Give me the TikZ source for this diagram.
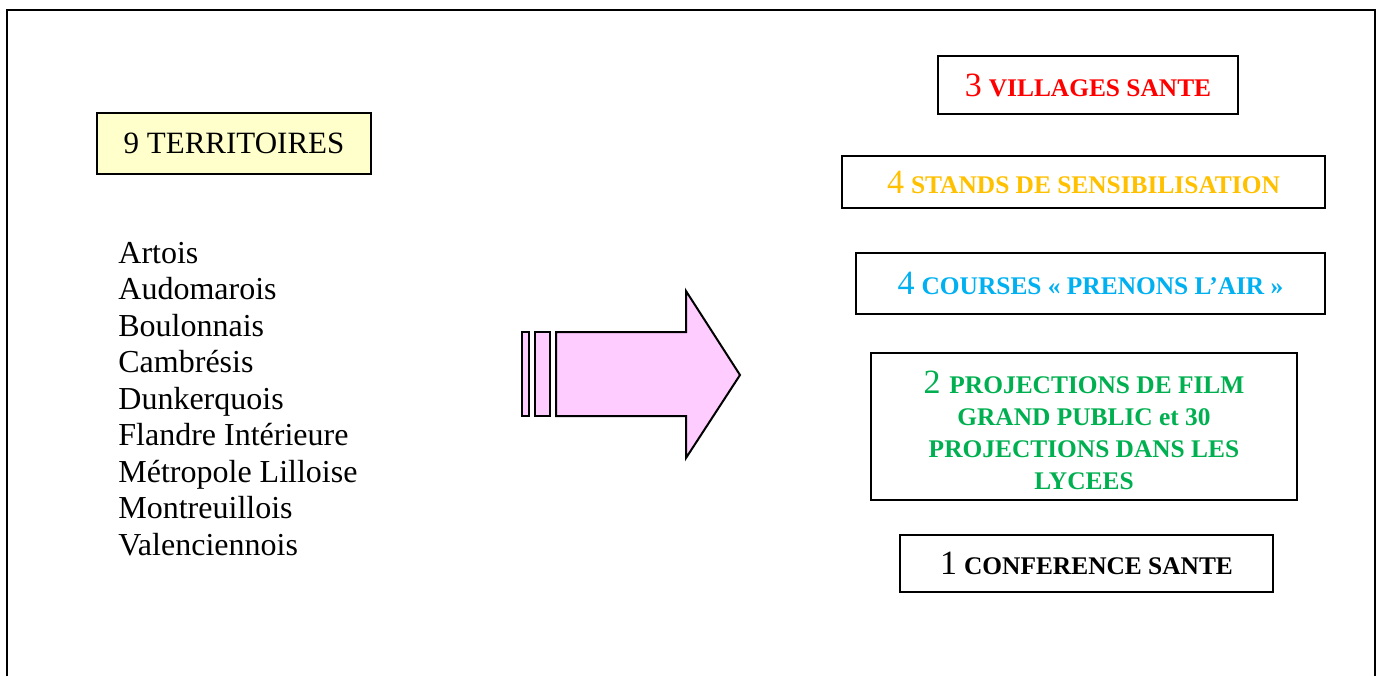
\documentclass[tikz,border=0pt]{standalone}
\usepackage{fontspec}
\setmainfont{Liberation Serif}
\definecolor{cred}{HTML}{FF0000}
\definecolor{corange}{HTML}{FFC000}
\definecolor{ccyan}{HTML}{00B0F0}
\definecolor{cgreen}{HTML}{00B050}
\definecolor{cyellow}{HTML}{FFFFCC}
\definecolor{cpink}{HTML}{FFCCFF}
\newcommand{\bignum}[1]{{\fontsize{17}{19}\selectfont\mdseries #1}\hspace{0.35em}}
\newcommand{\smcap}[1]{{\fontsize{12.7}{15.9}\selectfont\bfseries #1}}
\begin{document}
\begin{tikzpicture}[x=0.5pt,y=-0.5pt,
  box/.style={draw=black,line width=1pt,inner sep=0pt,align=center},
  shapeline/.style={draw=black,line width=1pt,fill=cpink,line join=miter}]
\useasboundingbox (0,0) rectangle (1383,676);
% outer frame (open at bottom)
\draw[line width=1pt] (6.5,676) -- (6.5,10) -- (1375,10) -- (1375,676);
% territoires
\node[box,fill=cyellow,minimum width=137pt,minimum height=30.5pt,
      font=\fontsize{15.5}{18}\selectfont] (terr) at (234,143.5) {9 TERRITOIRES};
\foreach \t [count=\i] in {Artois,Audomarois,Boulonnais,Cambrésis,Dunkerquois,Flandre Intérieure,Métropole Lilloise,Montreuillois,Valenciennois}
  \node[anchor=base west,inner sep=0pt,font=\fontsize{16}{18}\selectfont] (t\i) at (118,{263+36.5*(\i-1)}) {\t};
% arrow
\path[shapeline] (522,332) rectangle (529,416);
\path[shapeline] (535,332) rectangle (550,416);
\path[shapeline] (556,332) -- (686,332) -- (686,291) -- (740,375) -- (686,458) -- (686,416) -- (556,416) -- cycle;
% right boxes
\node[box,minimum width=150pt,minimum height=29pt,text=cred] (vil) at (1088,85)
  {\bignum{3}\smcap{VILLAGES SANTE}};
\node[box,minimum width=241.5pt,minimum height=26pt,text=corange] (sta) at (1083.5,182)
  {\bignum{4}\smcap{STANDS DE SENSIBILISATION}};
\node[box,minimum width=234.5pt,minimum height=30.5pt,text=ccyan] (cou) at (1090.5,283.5)
  {\bignum{4}\smcap{COURSES « PRENONS L’AIR »}};
\node[box,minimum width=213pt,minimum height=73.5pt] (pro) at (1084,426.5) {};
\node[inner sep=0pt,align=center,text=cgreen,
      font=\fontsize{12.7}{15.9}\selectfont\bfseries] (protxt) at (1084,430.5)
  {\bignum{2}PROJECTIONS DE FILM\\GRAND PUBLIC et 30\\PROJECTIONS DANS LES\\LYCEES};
\node[box,minimum width=186.5pt,minimum height=28.5pt,text=black] (con) at (1086.5,563.5)
  {\bignum{1}\smcap{CONFERENCE SANTE}};
\end{tikzpicture}
\end{document}
